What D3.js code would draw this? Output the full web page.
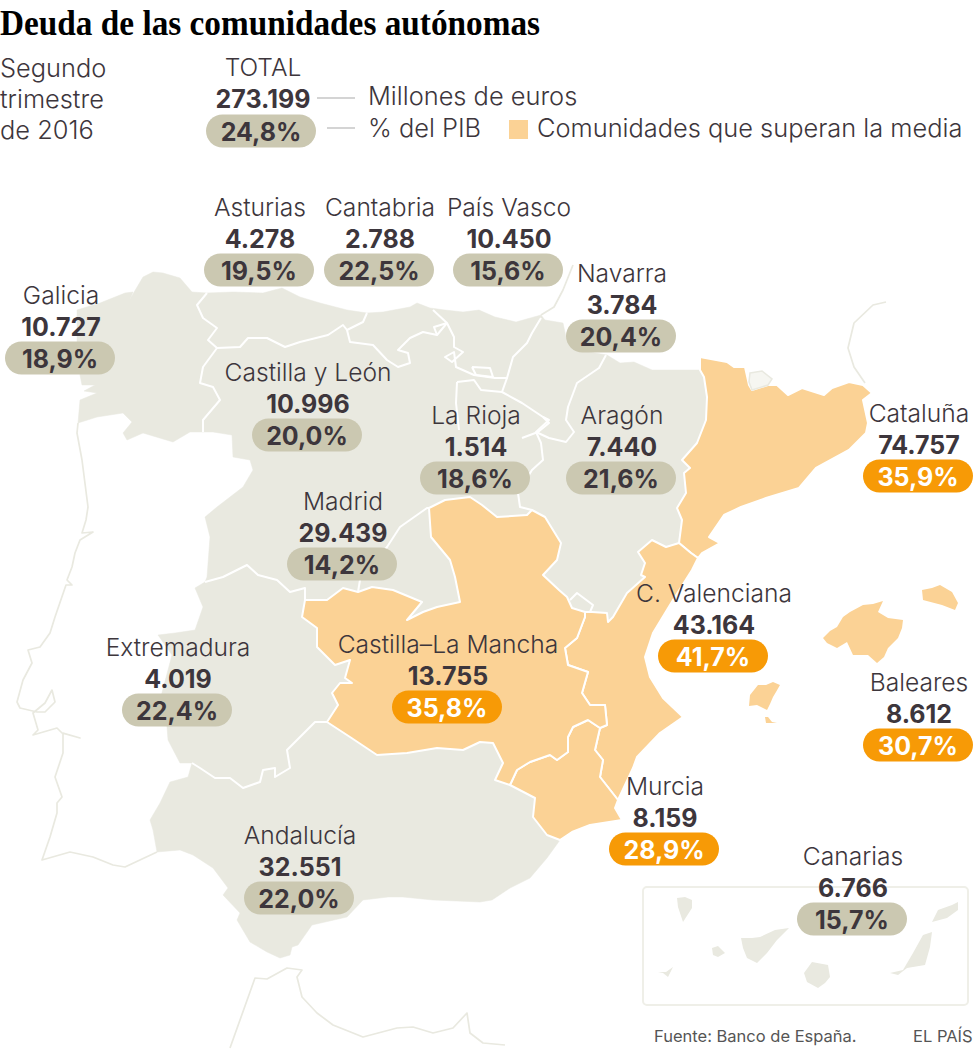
<!DOCTYPE html>
<html lang="es"><head><meta charset="utf-8">
<script src="https://cdnjs.cloudflare.com/ajax/libs/d3/7.8.5/d3.min.js"></script>
<style>html,body{margin:0;padding:0;background:#fff}svg{display:block}text{font-family:Inter,sans-serif;fill:#3d363c}</style>
</head><body><svg id="c" width="980" height="1049"></svg>
<script>
// ---------- chart data ----------
const regionNames=["Asturias","Cantabria","País Vasco","Navarra","Galicia","Castilla y León","La Rioja","Aragón","Cataluña","Madrid","Castilla–La Mancha","C. Valenciana","Extremadura","Baleares","Murcia","Andalucía","Canarias"];
const debtMillions=[4278,2788,10450,3784,10727,10996,1514,7440,74757,29439,13755,43164,4019,8612,8159,32551,6766];
const debtPctGdp=[19.5,22.5,15.6,20.4,18.9,20.0,18.6,21.6,35.9,14.2,35.8,41.7,22.4,30.7,28.9,22.0,15.7];
const totalDebt=273199, totalPct=24.8;
// label anchors (layout only)
const labelX=[259,379,508,621,60,307,475,621,918,342,447,713,177,918,664,299,852];
const labelPillY=[270,270,270,336,358,435,478,478,476,564,707,656,710,745,849,898,919];

// ---------- map geometry (map units) ----------
const northCoast=[[78,423],[80,400],[97,393],[84,391],[95,385],[82,385],[80,375],[77,345],[77,310],[100,303],[125,293],[133,292],[130,299],[143,277],[153,272],[163,273],[180,278],[192,292],[207,293],[233,292],[263,293],[282,288],[300,297],[320,303],[347,310],[367,313],[383,312],[410,307],[417,303],[430,308],[445,310],[463,312],[479,310],[495,317],[516,322],[541,315],[545,320],[563,323],[566,337],[577,350],[607,355],[620,363],[634,362],[652,370],[677,370],[700,370]];
const catCoast=[[700,357],[727,362],[734,367],[745,367],[749,385],[752,390],[768,385],[777,385],[788,395],[802,388],[824,395],[832,388],[849,382],[863,385],[872,393],[863,400],[868,423],[866,433],[849,450],[816,468],[799,488],[766,498],[741,507],[724,515],[709,537],[720,543],[702,553],[698,558]];
const valCoast=[[692,570],[673,600],[653,633],[645,657],[650,677],[663,698],[683,717],[660,733],[637,757],[633,768],[618,800]];
const murCoast=[[615,808],[622,820],[590,825],[572,832],[560,840]];
const andCoast=[[547,858],[530,878],[510,888],[492,900],[480,902],[433,900],[403,897],[388,897],[363,900],[347,917],[312,925],[298,945],[292,947],[290,955],[280,958],[267,952],[250,942],[237,920],[240,913],[223,895],[228,888],[213,868],[193,855],[180,850],[157,852],[153,830],[150,820]];
const westBorder=[[160,803],[170,782],[188,777],[192,763],[180,763],[168,740],[167,727],[160,700],[172,655],[165,645],[158,635],[175,633],[195,630],[203,607],[195,588],[205,582],[207,577],[210,537],[205,517],[217,507],[243,487],[253,470],[250,460],[233,457],[232,435],[213,432],[190,432],[173,442],[143,433],[127,440],[123,433],[132,422],[123,413],[97,417]];

const aragonCat=[[679,543],[682,520],[677,508],[686,493],[684,473],[690,468],[682,460],[697,443],[706,420],[707,397],[704,377],[700,370]];
const valCat=[[679,543],[691,553],[698,558]];
const aragonVal=[[585,612],[592,612],[607,613],[608,622],[613,617],[627,593],[645,577],[641,575],[645,563],[638,552],[652,540],[666,547],[679,543]];
const clmVal=[[585,612],[585,617],[577,638],[565,648],[568,665],[588,672],[582,693],[590,705],[605,705],[607,725],[600,728]];
const murVal=[[600,728],[595,750],[603,760],[600,777],[618,800]];
const clmMur=[[600,728],[588,720],[573,727],[568,737],[568,752],[557,760],[550,755],[530,762],[517,770],[510,785]];
const andMur=[[510,785],[535,798],[533,817],[547,835],[560,840]];
const clmAnd=[[510,785],[495,780],[503,763],[493,743],[480,742],[463,750],[437,748],[407,753],[377,755],[350,737],[327,722]];
const clmExt=[[327,722],[338,705],[332,693],[340,683],[352,683],[345,678],[350,660],[335,665],[317,647],[317,628],[302,617],[305,600]];
const clmCyl=[[305,600],[327,600],[343,588],[358,592]];
const clmMad=[[358,592],[372,587],[393,590],[422,602],[407,620],[423,612],[437,607],[460,602],[455,577],[450,560],[431,537],[429,508]];
const clmCyl2=[[429,508],[445,500],[470,497],[482,505],[497,517],[527,515],[532,510]];
const clmAra=[[532,510],[545,517],[561,543],[557,560],[543,575],[559,590],[567,597],[572,608],[585,612]];

const otherBorders=[
 [[207,293],[197,305],[203,318],[217,328],[208,340],[217,348],[203,367],[200,383],[213,387],[220,400],[203,420],[203,432]],
 [[217,348],[240,347],[248,338],[267,338],[285,347],[300,342],[328,335],[343,325],[347,330],[363,322],[367,313]],
 [[347,330],[350,342],[373,345],[387,360],[398,367],[410,363],[408,353],[398,350],[410,338],[423,332],[437,335],[447,323],[433,310]],
 [[447,323],[434,327],[437,335]],
 [[447,323],[454,337],[454,347],[463,352],[452,362],[445,357],[454,352],[456,367],[474,375],[495,378],[507,378],[513,357],[527,343],[532,333],[541,318]],
 [[472,367],[490,368],[493,377],[476,375],[472,367]],
 [[457,382],[474,380],[481,390],[502,392],[522,403],[543,417],[549,423],[538,432],[522,438]],
 [[457,382],[456,403],[459,430]],
 [[507,378],[502,392]],
 [[606,355],[599,368],[577,383],[568,407],[566,420],[574,432],[566,442],[549,438],[536,432],[549,420],[543,417]],
 [[536,432],[541,443],[543,460],[532,470],[518,493],[520,507],[532,510]],
 [[205,582],[223,577],[247,565],[258,575],[277,580],[290,592],[305,588],[305,600]],
 [[358,592],[360,580],[372,565],[387,547],[400,527],[427,508],[429,508]],
 [[327,722],[315,722],[287,750],[290,768],[275,777],[275,768],[263,770],[260,782],[243,788],[230,778],[215,778],[200,768],[192,763]],
 [[570,600],[577,593],[593,605],[590,612]]
];
const andorra=[[750,373],[762,371],[772,379],[768,385],[752,390],[749,382],[750,373]];
const balearics=[
 [[823,638],[830,631],[837,627],[843,617],[850,612],[863,605],[873,604],[883,601],[878,612],[888,618],[903,620],[902,628],[898,638],[888,648],[884,657],[877,663],[868,655],[853,655],[847,642],[837,648],[827,643]],
 [[922,590],[932,588],[940,585],[952,592],[958,603],[955,610],[942,605],[923,600]],
 [[750,695],[758,685],[766,685],[773,682],[780,685],[776,692],[773,697],[770,704],[767,710],[757,705],[749,706]],
 [[765,717],[768,717],[772,722],[777,723],[766,723]]
];
const canaryIslands=[
 [[677,898],[685,897],[692,900],[692,908],[683,922],[678,907]],
 [[741,938],[752,938],[760,937],[775,930],[789,928],[777,940],[767,953],[757,963],[747,958],[743,948]],
 [[712,948],[718,946],[725,953],[718,957],[713,955]],
 [[658,972],[666,972],[673,967],[668,977],[663,973]],
 [[804,973],[812,962],[828,965],[830,977],[825,983],[818,988],[807,982]],
 [[890,973],[903,970],[913,953],[923,935],[932,932],[930,947],[925,965],[907,968],[898,975]],
 [[932,922],[938,910],[952,905],[958,902],[958,910],[947,918]]
];
const portugalCoast=[[78,423],[77,433],[82,460],[88,507],[86,520],[82,533],[93,532],[80,540],[75,553],[72,567],[67,580],[72,585],[66,585],[55,617],[50,633],[40,647],[28,650],[32,663],[23,680],[17,702],[20,708],[37,712],[45,712],[55,702],[52,690],[45,703],[33,713],[38,730],[33,735],[57,728],[62,733],[80,738],[63,733],[63,753],[55,777],[62,797],[57,803],[57,813],[50,837],[42,860],[70,852],[93,857],[113,865],[125,867],[157,852]];
const franceAtlantic=[[573,265],[563,290],[554,307],[541,315]];
const franceMed=[[886,302],[873,305],[854,323],[848,348],[854,367],[865,383]];
const africaCoast=[[230,1048],[255,978],[267,979],[287,968],[302,970],[297,977],[302,997],[317,1013],[333,1025],[363,1037],[397,1028],[413,1027],[433,1033],[453,1028],[467,1013],[470,1033],[483,1043],[505,1045]];

// ---------- helpers ----------
const es=d3.formatLocale({decimal:",",thousands:".",grouping:[3],currency:["","€"]});
const fmtDebt=es.format(",d"), fmtPct=v=>es.format(".1f")(v)+"%";
const svg=d3.select("#c");
const geo=d3.geoPath(d3.geoIdentity());
const closed=r=>{const c=r.slice(); if(c[0]!==c[c.length-1]) c.push(c[0]); return c;};
const poly=r=>({type:"Polygon",coordinates:[closed(r)]});
const line=r=>({type:"LineString",coordinates:r});
const rev=r=>r.slice().reverse();
const GRAY="#e9e9e0", ORANGE="#fbd295", WHITE="#fff";
const above=v=>v>totalPct;
const pillColor=v=>above(v)?"#f79a06":"#cbc8b1";
const pctText=v=>above(v)?"#fff":"#3d363c";

// ---------- regions ----------
const mainland=[...northCoast,...catCoast,...valCoast,...murCoast,...andCoast,...westBorder];
const cataluna=[...catCoast,...rev(valCat),...aragonCat];
const valencia=[...valCat,...valCoast,...rev(murVal),...rev(clmVal),...aragonVal];
const murcia=[...clmMur.slice().reverse(),...murVal.slice(1),...murCoast,...rev(andMur)];
const mancha=[...clmCyl2,...clmAra,...clmVal,...clmMur,...clmAnd,...clmExt,...clmCyl,...clmMad];

const map=svg.append("g");
[portugalCoast,franceAtlantic,franceMed,africaCoast].forEach(r=>map.append("path").attr("d",geo(line(r))).attr("fill","none").attr("stroke",GRAY).attr("stroke-width",1.7).attr("stroke-linejoin","round"));
map.append("path").attr("d",geo(poly(mainland))).attr("fill",GRAY).attr("stroke",GRAY).attr("stroke-width",.5);
[cataluna,valencia,murcia,mancha].forEach(r=>map.append("path").attr("d",geo(poly(r))).attr("fill",ORANGE).attr("stroke",WHITE).attr("stroke-width",2).attr("stroke-linejoin","round"));
otherBorders.forEach(r=>map.append("path").attr("d",geo(line(r))).attr("fill","none").attr("stroke",WHITE).attr("stroke-width",2).attr("stroke-linejoin","round"));
map.append("path").attr("d",geo(poly(andorra))).attr("fill","#f6f6f1").attr("stroke",GRAY).attr("stroke-width",1.5);
balearics.forEach(r=>map.append("path").attr("d",geo(poly(r))).attr("fill",ORANGE));

// Canary box
const boxLeft=643, boxTop=887, boxW=325, boxH=118;
map.append("rect").attr("x",boxLeft).attr("y",boxTop).attr("width",boxW).attr("height",boxH).attr("rx",4).attr("fill","none").attr("stroke","#efefe8").attr("stroke-width",2);
canaryIslands.forEach(r=>map.append("path").attr("d",geo(poly(r))).attr("fill",GRAY));

// ---------- labels ----------
const PW=110, PH=33, NAME=24.6, LEGEND=25.4, NUM=25;
function pill(g,cx,cy,v){
 g.append("rect").attr("x",cx-PW/2).attr("y",cy-PH/2).attr("width",PW).attr("height",PH).attr("rx",16.5).attr("fill",pillColor(v));
 g.append("text").attr("x",cx).attr("y",cy+9.5).attr("text-anchor","middle").attr("font-size",NUM).attr("font-weight",700).style("fill",pctText(v)).text(fmtPct(v));
}
const labels=svg.append("g");
regionNames.forEach((n,i)=>{
 const cx=labelX[i], cy=labelPillY[i];
 labels.append("text").attr("x",cx+1).attr("y",cy-54).attr("text-anchor","middle").attr("font-size",NAME).attr("font-weight",300).text(n);
 labels.append("text").attr("x",cx+1).attr("y",cy-22).attr("text-anchor","middle").attr("font-size",NUM).attr("font-weight",700).text(fmtDebt(debtMillions[i]));
 pill(labels,cx,cy,debtPctGdp[i]);
});

// ---------- header ----------
svg.append("text").attr("x",0).attr("y",35).attr("font-size",35).attr("font-weight",700).style("font-family","'Liberation Serif',serif").style("fill","#000").attr("textLength",540).attr("lengthAdjust","spacingAndGlyphs").text("Deuda de las comunidades autónomas");
["Segundo","trimestre","de 2016"].forEach((t,i)=>svg.append("text").attr("x",0).attr("y",77+31*i).attr("font-size",LEGEND).attr("font-weight",300).text(t));
svg.append("text").attr("x",263).attr("y",76).attr("text-anchor","middle").attr("font-size",NAME).attr("font-weight",300).text("TOTAL");
svg.append("text").attr("x",263).attr("y",108).attr("text-anchor","middle").attr("font-size",NUM).attr("font-weight",700).text(fmtDebt(totalDebt));
pill(svg,261,131,totalPct);
svg.selectAll("line.k").data([[317,355,98],[327,355,128]]).join("line").attr("x1",d=>d[0]).attr("x2",d=>d[1]).attr("y1",d=>d[2]).attr("y2",d=>d[2]).attr("stroke","#a9a9a9").attr("stroke-width",1);
svg.append("text").attr("x",368).attr("y",105).attr("font-size",LEGEND).attr("font-weight",300).text("Millones de euros");
svg.append("text").attr("x",368).attr("y",137).attr("font-size",LEGEND).attr("font-weight",300).text("% del PIB");
svg.append("rect").attr("x",509).attr("y",120).attr("width",19).attr("height",19).attr("fill",ORANGE);
svg.append("text").attr("x",537).attr("y",137).attr("font-size",LEGEND).attr("font-weight",300).text("Comunidades que superan la media");

// ---------- footer ----------
svg.append("text").attr("x",654).attr("y",1042).attr("font-size",16.5).attr("font-weight",400).style("fill","#555").text("Fuente: Banco de España.");
svg.append("text").attr("x",913).attr("y",1042).attr("font-size",16.5).attr("font-weight",400).style("fill","#555").text("EL PAÍS");
</script></body></html>
